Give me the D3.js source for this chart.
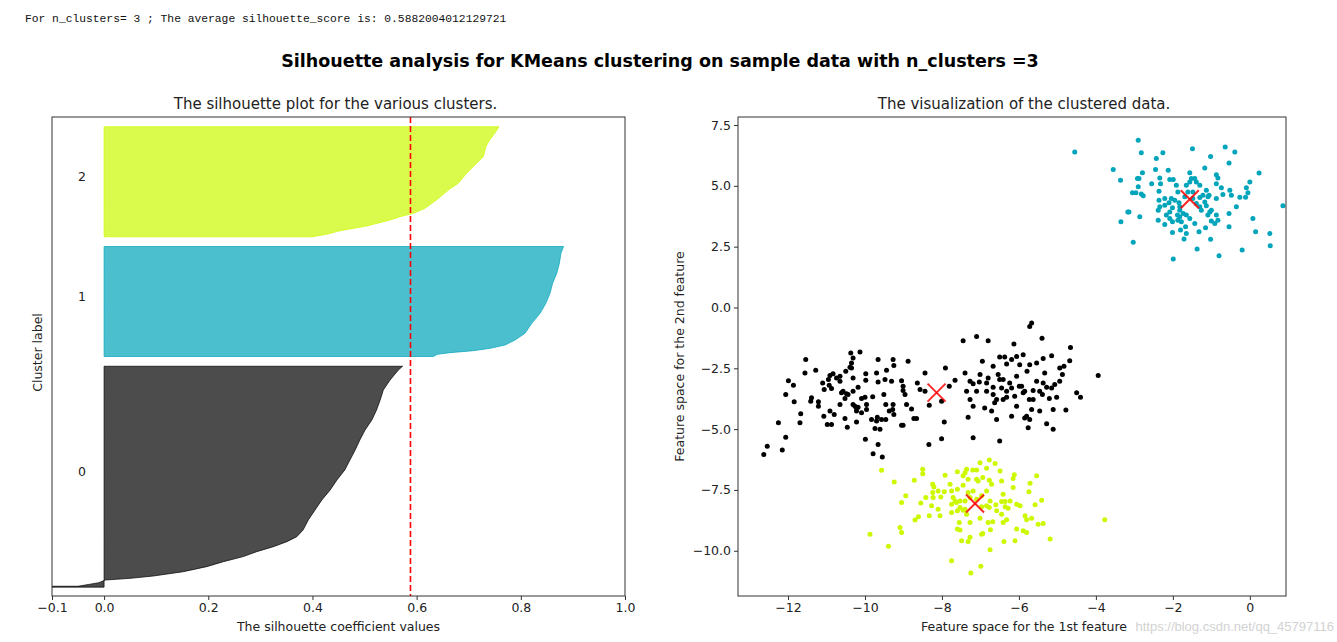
<!DOCTYPE html>
<html><head><meta charset="utf-8">
<script src="https://cdn.jsdelivr.net/npm/d3@7"></script>
<style>body{margin:0;background:#fff;} svg{display:block;}</style>
</head><body>
<svg id="c" width="1337" height="642"></svg>
<script>
// ---------- DATA ----------
const avgScore = 0.5882004012129721;
const nClusters = 3;
const clusterNames = ["0", "1", "2"];
const clusterSizes = [250, 125, 125];
const clusterColors = ["#000000", "#00a4bb", "#ccf900"];
const silTicks = [-0.1, 0, 0.2, 0.4, 0.6, 0.8, 1.0];
const featXTicks = [-12, -10, -8, -6, -4, -2, 0];
const featYTicks = [7.5, 5.0, 2.5, 0.0, -2.5, -5.0, -7.5, -10.0];

// sorted silhouette profile knots: [sample rank within cluster, silhouette value]
const silCluster0 = [[0,-0.1],[1,-0.1],[1,-0.05],[3,-0.03],[5,-0.01],[8,0.002],[9.9,0.05],[12.5,0.094],[17.4,0.152],[23.1,0.197],[28.7,0.229],[34.4,0.267],[40,0.293],[45.6,0.325],[51.3,0.351],[56.9,0.370],[64.4,0.382],[75.7,0.392],[87,0.405],[98.2,0.418],[109.5,0.434],[120.8,0.447],[132,0.462],[143.3,0.472],[154.6,0.482],[165.9,0.491],[177.1,0.501],[188.4,0.514],[199.7,0.523],[211,0.530],[222.2,0.536],[233.5,0.549],[244.8,0.565],[249,0.573]];
const silCluster1 = [[0,0.632],[2.5,0.640],[4.3,0.664],[6.6,0.709],[9.2,0.741],[13,0.770],[18.6,0.789],[26.2,0.808],[37.4,0.821],[48.7,0.837],[59.9,0.848],[71.2,0.856],[82.5,0.861],[93.8,0.869],[105,0.874],[116.3,0.877],[124,0.882]];
const silCluster2 = [[0,0.40],[2.8,0.427],[6.8,0.453],[12.1,0.504],[18.9,0.549],[22.6,0.568],[26.4,0.594],[32.1,0.616],[41.4,0.638],[52.7,0.661],[60.3,0.680],[71.5,0.696],[82.8,0.715],[90.3,0.728],[101.6,0.733],[109.1,0.740],[116.6,0.750],[124,0.758]];

// scatter points [feature 1, feature 2]
const pointsCluster0 = [[-5.67,-0.64],[-5.72,-0.78],[-7.10,-1.19],[-7.45,-1.37],[-6.80,-1.37],[-5.40,-1.26],[-6.13,-1.50],[-4.66,-1.64],[-10.37,-1.87],[-10.13,-1.83],[-10.31,-2.08],[-11.54,-2.14],[-9.66,-2.14],[-9.27,-2.14],[-8.88,-2.21],[-6.50,-2.04],[-6.37,-2.04],[-6.06,-2.01],[-5.89,-1.94],[-6.19,-2.14],[-5.15,-1.98],[-5.37,-2.10],[-6.95,-2.21],[-4.68,-2.19],[-9.25,-2.38],[-10.35,-2.28],[-10.39,-2.46],[-10.50,-2.62],[-11.56,-2.69],[-11.28,-2.58],[-10.83,-2.72],[-10.91,-2.80],[-10.65,-2.83],[-9.98,-2.72],[-9.70,-2.69],[-9.44,-2.58],[-8.44,-2.69],[-7.91,-2.49],[-7.40,-2.69],[-6.67,-2.42],[-6.32,-2.32],[-5.98,-2.35],[-5.72,-2.35],[-5.54,-2.28],[-4.83,-2.42],[-4.94,-2.49],[-3.94,-2.80],[-11.99,-3.01],[-11.86,-3.20],[-11.10,-3.10],[-10.93,-3.20],[-10.65,-3.03],[-10.31,-2.90],[-10.18,-3.28],[-9.98,-2.99],[-9.66,-3.06],[-9.48,-2.96],[-9.31,-3.03],[-9.05,-3.01],[-8.64,-3.10],[-7.66,-2.99],[-7.27,-3.03],[-7.19,-3.14],[-7.03,-3.06],[-6.80,-2.90],[-6.54,-2.76],[-6.41,-2.96],[-6.06,-2.83],[-5.79,-2.62],[-5.33,-2.69],[-4.87,-2.76],[-12.06,-3.58],[-11.06,-3.37],[-10.87,-3.33],[-10.57,-3.44],[-10.48,-3.55],[-10.31,-3.44],[-9.80,-3.67],[-9.51,-3.58],[-9.01,-3.41],[-8.96,-3.58],[-8.57,-3.37],[-8.44,-3.44],[-7.81,-3.24],[-7.36,-3.44],[-7.10,-3.44],[-6.84,-3.44],[-6.67,-3.28],[-6.45,-3.31],[-6.24,-3.10],[-5.99,-3.24],[-5.85,-3.44],[-5.63,-3.41],[-5.37,-3.10],[-5.28,-3.28],[-5.07,-3.17],[-4.50,-3.51],[-4.40,-3.69],[-11.84,-3.88],[-11.41,-3.85],[-11.21,-3.88],[-10.52,-3.74],[-10.09,-3.74],[-10.31,-3.99],[-10.18,-4.10],[-10.00,-3.69],[-9.46,-3.99],[-9.27,-3.99],[-8.92,-3.99],[-8.33,-4.02],[-8.01,-3.85],[-7.27,-3.78],[-7.19,-4.06],[-6.63,-3.92],[-6.41,-3.78],[-6.32,-3.69],[-6.06,-4.06],[-5.73,-3.78],[-5.39,-3.58],[-5.21,-3.74],[-11.67,-4.37],[-11.69,-4.74],[-11.07,-4.47],[-10.91,-4.26],[-10.80,-4.40],[-10.52,-4.56],[-10.22,-4.13],[-10.09,-4.33],[-9.96,-4.19],[-9.83,-4.60],[-9.68,-4.51],[-9.46,-4.60],[-9.25,-4.40],[-8.79,-4.17],[-8.66,-4.56],[-7.32,-4.51],[-6.89,-4.13],[-6.71,-4.26],[-6.58,-4.60],[-6.19,-4.47],[-5.85,-4.54],[-5.67,-4.19],[-5.46,-4.26],[-5.11,-4.19],[-4.78,-4.21],[-12.25,-4.74],[-10.98,-4.81],[-10.87,-4.81],[-10.46,-4.92],[-10.22,-4.71],[-9.74,-4.97],[-9.61,-5.01],[-9.05,-4.84],[-9.01,-4.84],[-7.94,-4.71],[-5.76,-4.94],[-5.28,-4.78],[-5.11,-5.01],[-12.06,-5.33],[-9.99,-5.42],[-8.01,-5.40],[-7.19,-5.35],[-6.50,-5.49],[-12.54,-5.70],[-12.15,-5.86],[-12.63,-6.04],[-9.66,-5.63],[-8.34,-5.63],[-9.79,-6.01],[-9.55,-6.15],
  [-10.61,-3.51],[-10.44,-3.58],[-10.26,-4.06],[-10.22,-4.26],[-9.70,-4.67],[-9.57,-4.60],[-9.37,-4.26],[-9.28,-4.19],[-8.73,-4.56],[-6.19,-3.31],[-5.93,-3.24],[-5.89,-3.51],[-5.80,-4.47],[-5.72,-4.60],[-6.67,-3.58],[-6.58,-3.78],[-6.32,-3.44],[-6.11,-3.65],[-5.63,-3.78],[-10.35,-2.49],[-10.74,-2.90],[-10.95,-2.96],[-9.96,-3.99],[-10.65,-3.99],[-9.01,-3.24],[-11.39,-3.71],[-11.21,-4.06],[-6.50,-2.96],[-6.84,-3.10],[-5.54,-3.03],[-5.15,-3.31],[-5.46,-3.44],[-5.02,-3.69],[-7.01,-2.76],[-4.94,-3.03]];
const pointsCluster1 = [[-2.90,6.87],[-1.49,6.53],[-0.64,6.60],[-0.39,6.39],[-2.82,6.36],[-2.26,6.36],[-2.43,6.12],[-1.02,6.21],[-0.54,5.94],[-3.55,5.67],[-2.45,5.67],[-2.12,5.64],[-1.17,5.73],[-1.56,5.54],[-2.79,5.54],[-3.36,5.23],[-2.92,5.30],[-2.88,5.30],[-2.34,5.32],[-2.08,5.26],[-1.99,5.26],[-0.87,5.46],[-0.83,5.32],[0.24,5.53],[-2.55,5.09],[-2.32,5.09],[-1.91,5.02],[-1.65,5.02],[-1.52,5.30],[-1.43,5.30],[-1.30,5.02],[-0.87,5.09],[-0.74,4.92],[0.00,5.16],[-2.90,4.96],[-3.05,4.72],[-2.96,4.72],[-2.82,4.66],[-2.77,4.59],[-2.36,4.78],[-1.61,4.75],[-1.48,4.75],[-1.13,4.82],[-1.06,4.61],[-0.52,4.82],[-0.09,4.92],[-0.05,4.72],[-0.70,4.64],[-0.48,4.61],[-0.26,4.53],[-0.11,4.53],[-2.36,4.41],[-2.04,4.48],[-1.95,4.41],[-1.84,4.31],[-1.30,4.52],[-1.17,4.34],[-0.87,4.48],[-2.21,4.20],[-2.34,4.14],[-2.01,4.10],[-1.30,4.14],[-1.13,4.18],[-1.00,4.00],[-0.35,4.14],[0.86,4.18],[-3.14,3.93],[-2.38,4.00],[-2.08,3.93],[-1.82,4.00],[-1.73,3.86],[-1.65,3.80],[-1.04,3.93],[-0.87,3.80],[-0.54,3.86],[-2.86,3.73],[-3.35,3.52],[-2.38,3.59],[-2.21,3.41],[-2.01,3.52],[-1.87,3.59],[-1.78,3.52],[-0.83,3.59],[-0.91,3.45],[0.08,3.66],[-0.54,3.32],[-2.01,3.08],[-1.80,3.18],[-1.67,3.32],[-1.32,3.11],[-1.15,3.28],[-1.71,2.81],[-1.65,3.04],[-1.02,2.80],[0.15,3.11],[0.52,3.04],[-3.03,2.68],[-1.37,2.40],[-0.80,2.13],[-0.20,2.36],[0.53,2.54],[-1.99,1.99],[-2.10,4.31],[-1.56,5.16],[-1.39,5.16],[-1.22,4.61],[-1.09,4.55],[-2.21,4.48],[-1.88,3.80],[-1.82,3.73],[-1.00,3.55],[-1.09,3.80],[-4.55,6.39],[-3.17,3.93],
  [-1.87,4.75],[-1.69,4.55],[-1.48,4.48],[-1.39,4.27],[-1.26,4.00],[-1.82,4.14],[-1.56,3.66],[-1.43,3.45],[-2.08,3.66],[-2.17,3.80]];
const pointsCluster2 = [[-9.57,-6.69],[-9.24,-7.17],[-8.72,-7.10],[-8.50,-6.65],[-8.50,-6.83],[-8.24,-7.27],[-8.21,-7.38],[-8.42,-7.81],[-8.55,-8.04],[-9.05,-8.02],[-8.94,-7.74],[-8.24,-7.61],[-8.23,-7.81],[-8.03,-7.79],[-7.94,-7.57],[-7.92,-6.90],[-7.75,-7.54],[-7.60,-7.47],[-7.60,-6.75],[-7.45,-6.92],[-7.40,-6.79],[-7.36,-6.65],[-7.20,-6.68],[-7.10,-6.68],[-7.01,-6.38],[-6.77,-6.27],[-6.62,-6.41],[-6.84,-6.61],[-6.49,-6.72],[-6.12,-6.88],[-6.15,-7.03],[-5.54,-6.92],[-6.94,-6.99],[-7.06,-7.13],[-6.77,-7.10],[-6.71,-7.27],[-6.45,-7.13],[-6.15,-7.40],[-5.71,-7.23],[-5.74,-7.57],[-7.45,-7.31],[-7.32,-7.06],[-7.75,-8.09],[-7.66,-7.95],[-7.62,-8.02],[-7.53,-8.22],[-7.40,-7.95],[-7.32,-7.61],[-7.27,-7.81],[-7.10,-7.88],[-6.97,-7.74],[-6.84,-8.15],[-6.77,-8.22],[-6.60,-8.11],[-6.45,-7.98],[-6.36,-7.98],[-6.23,-7.95],[-6.36,-8.19],[-6.28,-8.25],[-6.06,-8.09],[-5.97,-8.15],[-5.58,-8.11],[-5.41,-7.92],[-8.27,-8.15],[-8.10,-8.29],[-8.05,-8.56],[-8.33,-8.56],[-8.61,-8.60],[-8.70,-8.74],[-7.75,-8.43],[-7.60,-8.36],[-7.45,-8.33],[-7.36,-8.50],[-6.97,-8.19],[-6.45,-8.50],[-6.32,-8.73],[-6.41,-8.84],[-6.80,-8.84],[-6.68,-8.81],[-7.27,-8.84],[-7.55,-8.84],[-7.60,-9.11],[-7.53,-9.15],[-7.01,-8.66],[-5.84,-8.56],[-5.80,-8.73],[-5.67,-8.66],[-5.50,-8.91],[-5.37,-8.88],[-5.89,-9.18],[-5.80,-9.25],[-6.06,-9.11],[-9.09,-9.04],[-9.05,-9.25],[-9.87,-9.32],[-9.39,-9.82],[-7.49,-9.59],[-7.32,-9.62],[-7.27,-9.45],[-6.94,-9.29],[-6.74,-9.14],[-6.39,-9.62],[-6.10,-9.59],[-5.19,-9.52],[-6.75,-9.96],[-7.75,-10.41],[-6.99,-10.64],[-7.25,-10.91],[-3.77,-8.73],
  [-7.53,-7.95],[-7.40,-8.29],[-7.71,-7.81],[-7.19,-7.54],[-6.75,-7.95],[-6.58,-8.36],[-7.79,-7.27],[-8.10,-7.54],[-7.10,-7.06],[-6.84,-7.54],[-6.41,-7.68],[-6.97,-9.32]];
const centers = [[-8.14,-3.50],[-1.56,4.45],[-7.14,-8.06]];

// ---------- DRAW ----------
const svg = d3.select("#c");
const FONT = "'DejaVu Sans', sans-serif";
const spineColor = "#333";
const TICK_FS = 12.5, LABEL_FS = 12.5, TITLE_FS = 15;

svg.append("text").attr("x", 25).attr("y", 22)
  .attr("font-family", "'Liberation Mono', 'DejaVu Sans Mono', monospace")
  .attr("font-size", 11.3).attr("fill", "#111")
  .text(`For n_clusters= ${nClusters} ; The average silhouette_score is: ${avgScore}`);

svg.append("text").attr("x", 660).attr("y", 67).attr("text-anchor", "middle")
  .attr("font-family", FONT).attr("font-weight", "bold").attr("font-size", 17.5).attr("fill", "#000")
  .text(`Silhouette analysis for KMeans clustering on sample data with n_clusters =${nClusters}`);

// ---- Left: silhouette plot ----
const L = {x0: 52, x1: 625, y0: 117, y1: 596};
const total = d3.sum(clusterSizes) + (nClusters + 1) * 10;
const xL = d3.scaleLinear().domain([-0.1, 1]).range([L.x0, L.x1]);
const yL = d3.scaleLinear().domain([0, total]).range([L.y1, L.y0]);
const gL = svg.append("g");
svg.append("defs").append("clipPath").attr("id", "clipL")
  .append("rect").attr("x", L.x0).attr("y", L.y0).attr("width", L.x1 - L.x0).attr("height", L.y1 - L.y0);

const silData = [silCluster0, silCluster1, silCluster2];
let yLower = 10;
const plotL = gL.append("g").attr("clip-path", "url(#clipL)");
silData.forEach((knots, i) => {
  const yl = yLower;
  const area = d3.area()
    .y(d => yL(yl + d[0]))
    .x0(xL(0))
    .x1(d => xL(d[1]));
  plotL.append("path").attr("d", area(knots))
    .attr("fill", clusterColors[i]).attr("fill-opacity", 0.7)
    .attr("stroke", clusterColors[i]).attr("stroke-opacity", 0.7).attr("stroke-width", 1);
  gL.append("text").attr("x", xL(-0.05)).attr("y", yL(yl + 0.5 * clusterSizes[i]))
    .attr("font-family", FONT).attr("font-size", TICK_FS).attr("fill", "#222")
    .text(clusterNames[i]);
  yLower += clusterSizes[i] + 10;
});

plotL.append("line").attr("x1", xL(avgScore)).attr("x2", xL(avgScore))
  .attr("y1", L.y0).attr("y2", L.y1)
  .attr("stroke", "red").attr("stroke-width", 1.6).attr("stroke-dasharray", "6,3");

gL.append("rect").attr("x", L.x0).attr("y", L.y0).attr("width", L.x1 - L.x0).attr("height", L.y1 - L.y0)
  .attr("fill", "none").attr("stroke", spineColor).attr("stroke-width", 1);

const axL = gL.append("g").attr("transform", `translate(0,${L.y1})`)
  .call(d3.axisBottom(xL).tickValues(silTicks).tickFormat(d3.format(".1f")).tickSize(4).tickSizeOuter(0));
axL.select(".domain").remove();
axL.selectAll("line").attr("stroke", spineColor);
axL.selectAll("text").attr("font-family", FONT).attr("font-size", TICK_FS).attr("fill", "#222");

gL.append("text").attr("x", (L.x0 + L.x1) / 2 - 3).attr("y", 109).attr("text-anchor", "middle")
  .attr("font-family", FONT).attr("font-size", TITLE_FS).attr("fill", "#222")
  .text("The silhouette plot for the various clusters.");
gL.append("text").attr("x", (L.x0 + L.x1) / 2).attr("y", 631).attr("text-anchor", "middle")
  .attr("font-family", FONT).attr("font-size", LABEL_FS).attr("fill", "#222")
  .text("The silhouette coefficient values");
gL.append("text").attr("transform", `translate(42,${(L.y0 + L.y1) / 2 - 4}) rotate(-90)`).attr("text-anchor", "middle")
  .attr("font-family", FONT).attr("font-size", LABEL_FS).attr("fill", "#222")
  .text("Cluster label");

// ---- Right: scatter ----
const R = {x0: 738, x1: 1286, y0: 117, y1: 596};
const xR = d3.scaleLinear().domain([-13.3, 0.94]).range([R.x0, R.x1]);
const yR = d3.scaleLinear().domain([-11.86, 7.83]).range([R.y1, R.y0]);
const gR = svg.append("g");
const pts = [pointsCluster0, pointsCluster1, pointsCluster2];
pts.forEach((arr, i) => {
  gR.append("g").selectAll("circle").data(arr).join("circle")
    .attr("cx", d => xR(d[0])).attr("cy", d => yR(d[1])).attr("r", 2.5)
    .attr("fill", clusterColors[i]);
});
const cg = gR.append("g");
centers.forEach(c => {
  const cx = xR(c[0]), cy = yR(c[1]);
  [[-1,-1,1,1],[-1,1,1,-1]].forEach(s => {
    cg.append("line").attr("x1", cx + s[0]*9).attr("y1", cy + s[1]*9)
      .attr("x2", cx + s[2]*9).attr("y2", cy + s[3]*9)
      .attr("stroke", "#f00").attr("stroke-opacity", 0.85).attr("stroke-width", 2);
  });
});
gR.append("rect").attr("x", R.x0).attr("y", R.y0).attr("width", R.x1 - R.x0).attr("height", R.y1 - R.y0)
  .attr("fill", "none").attr("stroke", spineColor).attr("stroke-width", 1);
const axRx = gR.append("g").attr("transform", `translate(0,${R.y1})`)
  .call(d3.axisBottom(xR).tickValues(featXTicks).tickFormat(d3.format("d")).tickSize(4).tickSizeOuter(0));
const axRy = gR.append("g").attr("transform", `translate(${R.x0},0)`)
  .call(d3.axisLeft(yR).tickValues(featYTicks).tickFormat(d3.format(".1f")).tickSize(4).tickSizeOuter(0));
[axRx, axRy].forEach(a => {
  a.select(".domain").remove();
  a.selectAll("line").attr("stroke", spineColor);
  a.selectAll("text").attr("font-family", FONT).attr("font-size", TICK_FS).attr("fill", "#222");
});
gR.append("text").attr("x", (R.x0 + R.x1) / 2 + 12).attr("y", 109).attr("text-anchor", "middle")
  .attr("font-family", FONT).attr("font-size", TITLE_FS).attr("fill", "#222")
  .text("The visualization of the clustered data.");
gR.append("text").attr("x", (R.x0 + R.x1) / 2 + 12).attr("y", 631).attr("text-anchor", "middle")
  .attr("font-family", FONT).attr("font-size", LABEL_FS).attr("fill", "#222")
  .text("Feature space for the 1st feature");
gR.append("text").attr("transform", `translate(684,${(R.y0 + R.y1) / 2}) rotate(-90)`).attr("text-anchor", "middle")
  .attr("font-family", FONT).attr("font-size", LABEL_FS).attr("fill", "#222")
  .text("Feature space for the 2nd feature");

// watermark
svg.append("text").attr("x", 1334).attr("y", 631).attr("text-anchor", "end")
  .attr("font-family", "'Liberation Sans', Arial, sans-serif").attr("font-size", 13)
  .attr("fill", "#d2d2d2")
  .text("https://blog.csdn.net/qq_45797116");
</script>
</body></html>
